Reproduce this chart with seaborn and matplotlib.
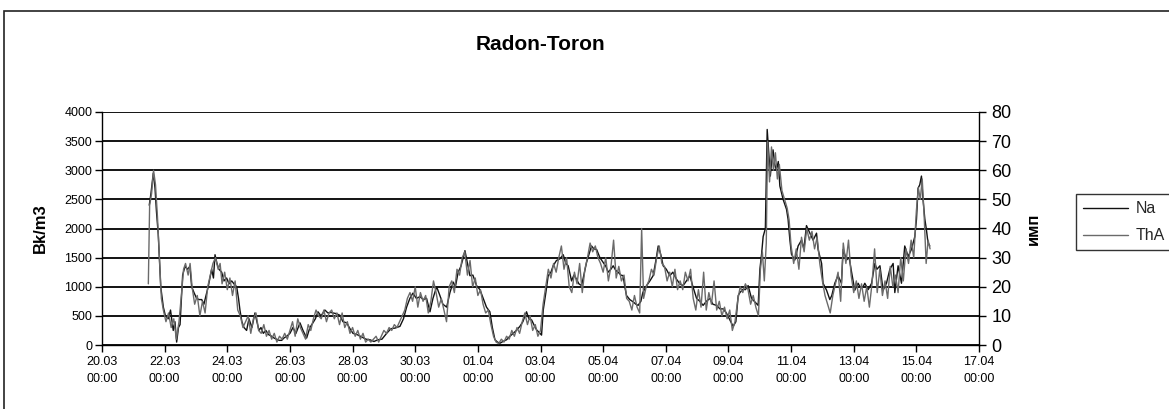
import numpy as np
import pandas as pd
import matplotlib
matplotlib.use("Agg")
import matplotlib.pyplot as plt
import matplotlib.dates as mdates
from matplotlib.patches import Rectangle
import seaborn as sns

# ---------------- data (hours after 20.03 00:00) ----------------
na_hours = [36.2, 37.5, 39.3, 40.6, 41.7, 43.1, 45, 47, 48.6, 50.8, 52.5, 54.6, 55.9, 57.2, 58.6, 59.8,
            61.8, 63.6, 65.5, 67.4, 68.7, 70.5, 72.5, 74.3, 76.4, 78.1, 79.7, 81.4, 84, 85.4, 86.6, 88.1,
            89.6, 91.7, 93.5, 95.5, 97.3, 99.4, 101.1, 103.2, 104.6, 105.7, 107.2, 108.8, 110.8, 112.6,
            114.9, 117.2, 118.7, 120.3, 121.8, 123.6, 125.6, 127.5, 130, 131.8, 133.8, 135.6, 137.7, 139.4,
            141.5, 144, 146.3, 148.6, 151.7, 154, 156.8, 159.3, 161.6, 163.5, 165.5, 167.8, 170.8, 173.1,
            175.4, 176.9, 179.3, 182.3, 184.6, 187.5, 190, 192.3, 195.3, 198.9, 202.2, 205.3, 208.4, 211.4,
            214.5, 218.1, 221.4, 224.5, 228.3, 231, 233.4, 235.9, 238.2, 240.9, 243.6, 246.3, 248.7, 251.3,
            253.6, 256.4, 258.9, 261.2, 264.1, 266.6, 269.1, 270.8, 272.9, 275, 276.8, 278.1, 280, 281.9,
            284.2, 287, 289.6, 292.1, 294.6, 297.2, 299.1, 301.1, 303, 304.9, 307.2, 310, 312.5, 315.1,
            317.5, 320.2, 322.5, 325.3, 327.1, 329.2, 330.9, 333, 334.8, 336.8, 338.1, 340.1, 341.9, 344,
            345.7, 348.2, 350.9, 353.4, 355.4, 357.2, 359.8, 361.6, 363.6, 365.4, 367.5, 369.2, 371.3,
            373.1, 375.1, 376.9, 379, 381.5, 384, 386.1, 387.8, 389.9, 391.7, 393.7, 395.5, 397.6, 399.3,
            400.6, 401.9, 404.4, 407, 409.1, 410.8, 412.9, 414.4, 417.3, 419.8, 422.3, 424.4, 426.2, 428.2,
            430, 432.4, 435.1, 437.4, 440.2, 442.8, 445.3, 447.8, 450.5, 452.8, 455.6, 458.1, 460.6, 463.1,
            465.8, 468.1, 470.9, 473.5, 476, 478.4, 481.1, 483.6, 485.7, 487.5, 488.8, 491.3, 493, 495.1,
            497.7, 500.2, 502.8, 504.1, 505.4, 506.6, 508.3, 509.7, 510.9, 512.1, 513.3, 514.2, 515.5,
            516.8, 518.2, 519.4, 521.9, 524.5, 525.7, 527.1, 528.3, 529.7, 530.9, 533.4, 536, 537.8, 539.8,
            542.4, 544.9, 547.5, 548.7, 551.4, 552.5, 555.2, 557.7, 559.2, 561.5, 564, 566.6, 567.9, 570.5,
            572.5, 574.3, 576.8, 579.4, 580.7, 583.2, 584.5, 587.1, 589.7, 592.2, 593.8, 596.1, 598.5,
            601.1, 603.7, 606.2, 607.5, 610, 612.6, 615.1, 617.7, 620.2, 622.8, 624.1, 625.3, 626.6, 627.9,
            629.1, 630.5, 631.7, 632.9, 634.3]
na_values = [2400, 2600, 2950, 2700, 2300, 1900, 1000, 650, 500, 450, 600, 250, 400, 50, 300, 350,
             1200, 1350, 1300, 1350, 1000, 900, 800, 780, 780, 700, 850, 1000, 1300, 1150, 1550, 1400,
             1300, 1250, 1100, 1150, 1050, 1100, 1050, 1000, 800, 600, 400, 300, 250, 450,
             300, 550, 400, 250, 300, 200, 250, 180, 150, 120, 100, 80, 80, 120,
             150, 200, 300, 200, 380, 250, 120, 300, 380, 450, 570, 500, 600, 550,
             560, 550, 540, 510, 400, 380, 280, 200, 180, 140, 100, 90, 60, 90,
             100, 200, 280, 290, 320, 450, 650, 800, 890, 800, 830, 780, 800, 570,
             800, 1000, 850, 700, 650, 900, 1080, 1000, 1250, 1350, 1500, 1620, 1400, 1190,
             1200, 1020, 950, 800, 650, 570, 300, 90, 50, 30, 60, 90, 150, 200,
             250, 320, 400, 570, 450, 430, 350, 260, 220, 170, 600, 900, 1190, 1250,
             1360, 1450, 1480, 1550, 1400, 1360, 1100, 1200, 1130, 1050, 1020, 1200, 1420,
             1550, 1700, 1650, 1640, 1500, 1420, 1350, 1250, 1300, 1360, 1280, 1250, 1200, 1190,
             1000, 850, 780, 740, 700, 680, 750, 900, 1020, 1100, 1190, 1450, 1700, 1550,
             1360, 1300, 1190, 1250, 1130, 1050, 1020, 1100, 1190, 1000, 800, 750, 680, 750,
             800, 700, 680, 620, 620, 550, 430, 320, 400, 850, 900, 960, 950, 1020,
             800, 740, 680, 1300, 1560, 1860, 2000, 3700, 3300, 2900, 3200, 3350, 3100,
             3000, 3150, 2730, 2500, 2330, 2160, 1800, 1560, 1500, 1460, 1700, 1800, 1650, 2050,
             1920, 1800, 1920, 1640, 1400, 1060, 940, 780, 850, 1060, 1190, 1060, 1640, 1460,
             1500, 1260, 940, 1060, 1000, 1000, 1060, 950, 1060, 1400, 1300, 1360, 940,
             1060, 1300, 1400, 900, 1360, 1060, 1700, 1520, 1640, 1860, 2160, 2690, 2750, 2900,
             2500, 2160, 1980, 1760, 1700]

tha_hours = [35.5, 36.5, 38, 39.5, 41, 42.5, 44, 45.5, 47, 49, 51, 53, 55, 57, 59, 61, 62.5, 64, 66,
             67.5, 69, 71, 73, 75, 77, 79, 81, 83, 85, 87, 89, 90.5, 92, 94, 96, 98, 100, 102, 104, 106,
             108, 110, 112, 114, 116, 118, 120, 122, 124, 126, 128, 130, 132, 134, 136, 138, 140, 142,
             144, 146, 148, 150, 152, 154, 156, 158, 160, 162, 164, 166, 168, 170, 172, 174, 176, 178,
             180, 182, 184, 186, 188, 190, 192, 194, 196, 198, 200, 202, 204, 206, 208, 210, 212, 214,
             216, 218, 220, 222, 224, 226, 228, 230, 232, 234, 236, 238, 240, 242, 244, 246, 248, 250,
             252, 254, 256, 258, 260, 262, 264, 266, 268, 270, 272, 274, 276, 278, 280, 282, 284, 286,
             288, 290, 292, 294, 296, 298, 300, 302, 304, 306, 308, 310, 312, 314, 316, 318, 320, 322,
             324, 326, 328, 330, 332, 334, 336, 338, 340, 342, 344, 346, 348, 350, 352, 354, 356, 358,
             360, 362, 364, 366, 368, 370, 372, 374, 376, 378, 380, 382, 384, 386, 388, 390, 392, 394,
             396, 398, 400, 402, 404, 406, 408, 410, 412, 413.5, 415, 417, 419, 421, 423, 425, 427, 429,
             431, 433, 435, 437, 439, 441, 443, 445, 447, 449, 451, 453, 455, 457, 459, 461, 463, 465,
             467, 469, 471, 473, 475, 477, 479, 481, 483, 485, 487, 489, 491, 493, 495, 497, 499, 501,
             503, 504.5, 506, 507.5, 509, 510, 511.5, 513, 514.5, 516, 517.5, 519, 521, 523, 525, 526.5,
             528, 530, 532, 534, 536, 538, 540, 542, 544, 546, 548, 550, 552, 554, 556, 558, 560, 562,
             564, 566, 568, 570, 572, 574, 576, 578, 580, 582, 584, 586, 588, 590, 592, 594, 596, 598,
             600, 602, 604, 606, 608, 610, 612, 614, 616, 618, 620, 622, 624, 625.5, 627, 628.5, 630,
             631.5, 633, 634.5]
tha_values = [21, 48, 52, 60, 55, 44, 30, 16, 12, 8, 11, 6, 9, 2, 8, 18, 26, 28, 24,
              28, 20, 14, 17, 10, 15, 11, 20, 24, 28, 30, 26, 28, 21, 25, 19, 23, 17, 22, 12, 10,
              6, 8, 10, 4, 9, 11, 5, 4, 7, 3, 5, 2, 4, 1, 3, 2, 4, 2,
              5, 8, 3, 9, 6, 4, 2, 7, 5, 9, 12, 10, 9, 12, 8, 11, 12, 9,
              11, 7, 11, 6, 8, 4, 6, 3, 5, 2, 4, 1, 2, 1, 2, 3, 1, 3,
              5, 4, 6, 5, 7, 6, 8, 10, 12, 16, 18, 15, 20, 13, 18, 15, 17, 11,
              15, 22, 18, 13, 16, 12, 8, 20, 22, 18, 26, 24, 30, 32, 24, 29, 20, 23,
              17, 19, 14, 11, 12, 7, 3, 1, 0.5, 2, 1, 3, 2, 5, 3, 6, 4, 8,
              11, 7, 10, 5, 7, 3, 5, 14, 20, 26, 23, 28, 25, 30, 34, 26, 30, 20,
              18, 25, 21, 28, 18, 26, 30, 35, 32, 34, 30, 28, 25, 30, 22, 27, 36, 23,
              27, 22, 24, 16, 15, 12, 17, 13, 11, 40, 16, 20, 22, 26, 24, 30, 34, 28,
              27, 22, 25, 20, 26, 19, 22, 19, 25, 22, 26, 16, 12, 19, 13, 25, 12, 18,
              14, 22, 12, 15, 10, 13, 9, 12, 5, 8, 15, 20, 18, 21, 19, 14, 17, 13,
              10, 26, 32, 22, 35, 70, 56, 68, 60, 66, 57, 62, 53, 50, 47, 43,
              34, 28, 33, 26, 37, 32, 40, 36, 39, 33, 37, 28, 22, 17, 14, 11, 17, 21,
              25, 15, 35, 28, 36, 24, 18, 22, 16, 21, 15, 20, 13, 21, 33, 18, 26, 17,
              22, 16, 27, 20, 24, 18, 30, 22, 33, 28, 36, 30, 46, 54, 50, 57, 44,
              28, 36, 33]

x_tick_days = list(range(0, 29, 2))
left_ticks = list(range(0, 4001, 500))
right_ticks = list(range(0, 81, 10))
title = "Radon-Toron"
left_label = "Bk/m3"
right_label = "имп"
series_names = ["Na", "ThA"]

# ---------------- build frames ----------------
base = pd.Timestamp("2009-03-20 00:00")
df_na = pd.DataFrame({"time": base + pd.to_timedelta(na_hours, unit="h"), "value": na_values})
df_tha = pd.DataFrame({"time": base + pd.to_timedelta(tha_hours, unit="h"), "value": tha_values})

sns.set_theme(style="white")
plt.rcParams["font.family"] = ["Liberation Sans", "DejaVu Sans"]

W, H = 1169, 409
fig = plt.figure(figsize=(W / 100, H / 100), dpi=100)
fig.patch.set_facecolor("white")

# outer chart border
fig.add_artist(Rectangle((4 / W, -0.05), 1.2, 1 - 11 / H + 0.05, transform=fig.transFigure,
                         fill=False, edgecolor="#222222", linewidth=1.2))

ax = fig.add_axes([102 / W, 1 - 345 / H, (979 - 102) / W, (345 - 112) / H])
ax2 = ax.twinx()

sns.lineplot(data=df_na, x="time", y="value", ax=ax, color="#111111", linewidth=1.0,
             estimator=None, sort=True, label=series_names[0], legend=False)
sns.lineplot(data=df_tha, x="time", y="value", ax=ax2, color="#6a6a6a", linewidth=1.0,
             estimator=None, sort=True, label=series_names[1], legend=False)

ax.set_ylim(0, 4000)
ax2.set_ylim(0, 80)
ax.set_xlim(base, base + pd.Timedelta(days=28))
ax.set_yticks(left_ticks)
ax2.set_yticks(right_ticks)
ax.set_xticks([base + pd.Timedelta(days=d) for d in x_tick_days])
ax.xaxis.set_major_formatter(mdates.DateFormatter("%d.%m\n%H:%M"))

ax.grid(axis="y", color="black", linewidth=1.3)
ax.grid(axis="x", visible=False)
ax2.grid(False)
ax.set_facecolor("white")

for a in (ax, ax2):
    for s in a.spines.values():
        s.set_visible(False)
ax.spines["left"].set_visible(True)
ax.spines["bottom"].set_visible(True)
ax2.spines["right"].set_visible(True)
for s in (ax.spines["left"], ax.spines["bottom"], ax2.spines["right"]):
    s.set_color("black")
    s.set_linewidth(1.0)

ax.tick_params(axis="y", which="major", left=True, length=5, width=1, color="black",
               labelsize=9, pad=2, labelcolor="black")
ax.tick_params(axis="x", which="major", bottom=True, length=5, width=1, color="black",
               labelsize=9, pad=3, labelcolor="black")
ax2.tick_params(axis="y", which="major", right=True, length=5, width=1, color="black",
                labelsize=13, pad=4, labelcolor="black")
for lbl in ax.get_xticklabels():
    lbl.set_linespacing(1.5)

ax.set_xlabel("")
ax.set_ylabel(left_label, fontsize=12, fontweight="bold", color="black", labelpad=12)
ax2.set_ylabel(right_label, fontsize=12, fontweight="bold", color="black", labelpad=10,
               rotation=90)

fig.text(540 / W, 1 - 45 / H, title, ha="center", va="center", fontsize=15,
         fontweight="bold", color="black")

handles = [ax.get_lines()[0], ax2.get_lines()[0]]
leg = fig.legend(handles, series_names, loc="upper left",
                 bbox_to_anchor=(1076 / W, 1 - 194 / H), bbox_transform=fig.transFigure,
                 frameon=True, fancybox=False, edgecolor="black", fontsize=11.5,
                 handlelength=2.8, handletextpad=0.5, borderpad=0.45, labelspacing=0.75,
                 borderaxespad=0)
leg.get_frame().set_linewidth(1.0)

fig.savefig("out.png", dpi=100, facecolor="white")
